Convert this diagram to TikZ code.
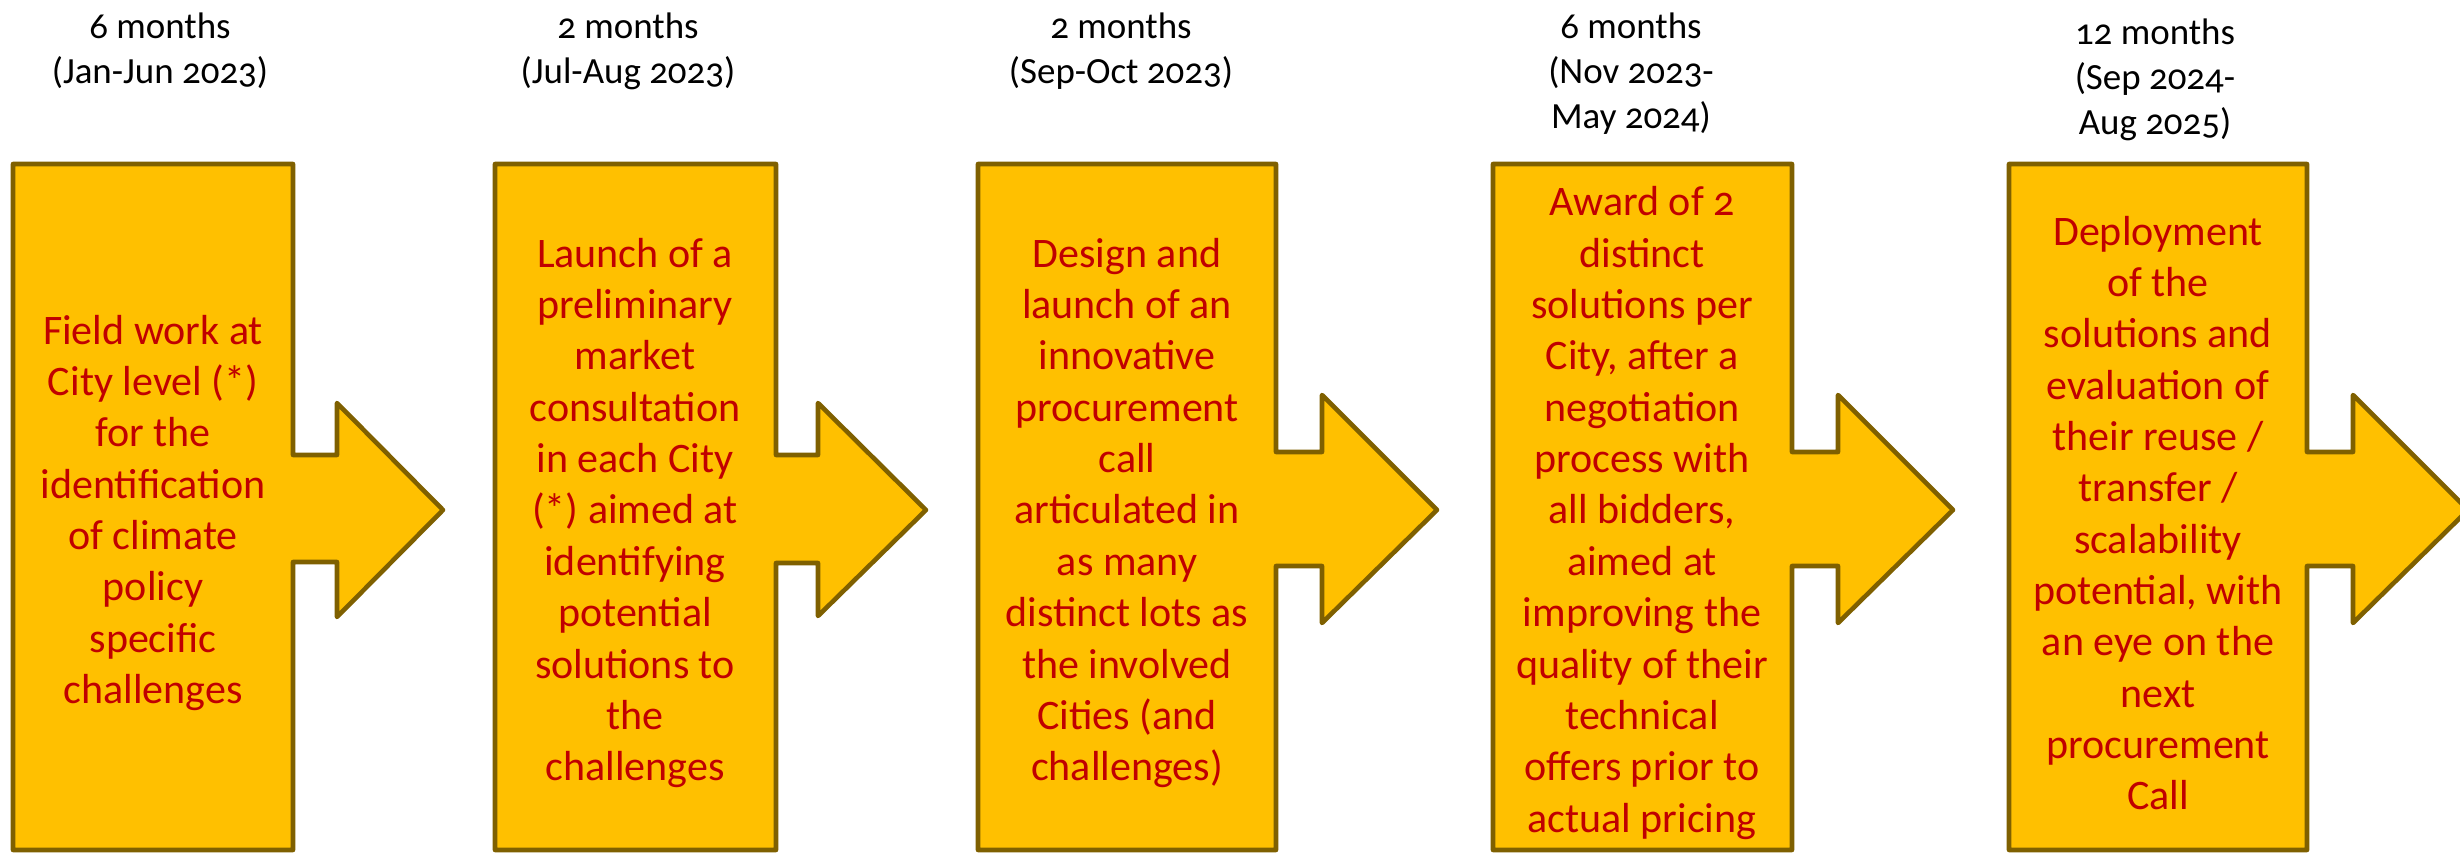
\documentclass[tikz,border=0pt]{standalone}
\usepackage{fontspec}
\setmainfont{Carlito}[Numbers=OldStyle]
\usetikzlibrary{positioning}

\definecolor{gold}{HTML}{FFC000}
\definecolor{gold-line}{HTML}{7F6000}
\definecolor{dark-red}{HTML}{C00000}

\begin{document}
\begin{tikzpicture}[
x=0.01cm, y=-0.01cm,
phase-box/.style={draw=gold-line, fill=gold, line width=1.3pt, line join=round},
phase-text/.style={align=center, inner sep=0pt, text=dark-red,
font=\fontsize{11.95}{14.6}\selectfont},
phase-time/.style={align=center, inner sep=0pt, anchor=north,
font=\fontsize{10.5}{12.8}\selectfont}
]
\useasboundingbox (0,0) rectangle (2460,855);
\clip (0,0) rectangle (2460,855);

% the five boxes, each with its arrow to the right
\draw [phase-box] (13,850) -- (13,164) -- (293,164) -- (293,455) -- (337,455)
  -- (337,403) -- (443,510) -- (337,617) -- (337,562) -- (293,562) -- (293,850) -- cycle;
\draw [phase-box] (495,850) -- (495,164) -- (776,164) -- (776,455) -- (818,455)
  -- (818,403) -- (926,510) -- (818,616) -- (818,563) -- (776,563) -- (776,850) -- cycle;
\draw [phase-box] (978,850) -- (978,164) -- (1276,164) -- (1276,452) -- (1322,452)
  -- (1322,395) -- (1437,510) -- (1322,623) -- (1322,566) -- (1276,566) -- (1276,850) -- cycle;
\draw [phase-box] (1493,850) -- (1493,164) -- (1792,164) -- (1792,452) -- (1838,452)
  -- (1838,395) -- (1953,510) -- (1838,623) -- (1838,566) -- (1792,566) -- (1792,850) -- cycle;
\draw [phase-box] (2009,850) -- (2009,164) -- (2307,164) -- (2307,452) -- (2353,452)
  -- (2353,395) -- (2468,510) -- (2353,623) -- (2353,566) -- (2307,566) -- (2307,850) -- cycle;

\node [phase-text] (field) at (153,513) {Field work at\\City level (*)\\for the\\identification\\of climate\\policy\\specific\\challenges};
\node [phase-text] (consult) at (635,513) {Launch of a\\preliminary\\market\\consultation\\in each City\\(*) aimed at\\identifying\\potential\\solutions to\\the\\challenges};
\node [phase-text] (design) at (1127,513) {Design and\\launch of an\\innovative\\procurement\\call\\articulated in\\as many\\distinct lots as\\the involved\\Cities (and\\challenges)};
\node [phase-text] (award) at (1642,513) {Award of 2\\distinct\\solutions per\\City, after a\\negotiation\\process with\\all bidders,\\aimed at\\improving the\\quality of their\\technical\\offers prior to\\actual pricing};
\node [phase-text] (deploy) at (2158,513) {Deployment\\of the\\solutions and\\evaluation of\\their reuse /\\transfer /\\scalability\\potential, with\\an eye on the\\next\\procurement\\Call};

% durations
\node [phase-time] (field-time) at (160,12) {6 months\\(Jan-Jun 2023)};
\node [phase-time] (consult-time) at (628,12) {2 months\\(Jul-Aug 2023)};
\node [phase-time] (design-time) at (1121,12) {2 months\\(Sep-Oct 2023)};
\node [phase-time] (award-time) at (1631,12) {6 months\\(Nov 2023-\\May 2024)};
\node [phase-time] (deploy-time) at (2155,18) {12 months\\(Sep 2024-\\Aug 2025)};

\end{tikzpicture}
\end{document}
